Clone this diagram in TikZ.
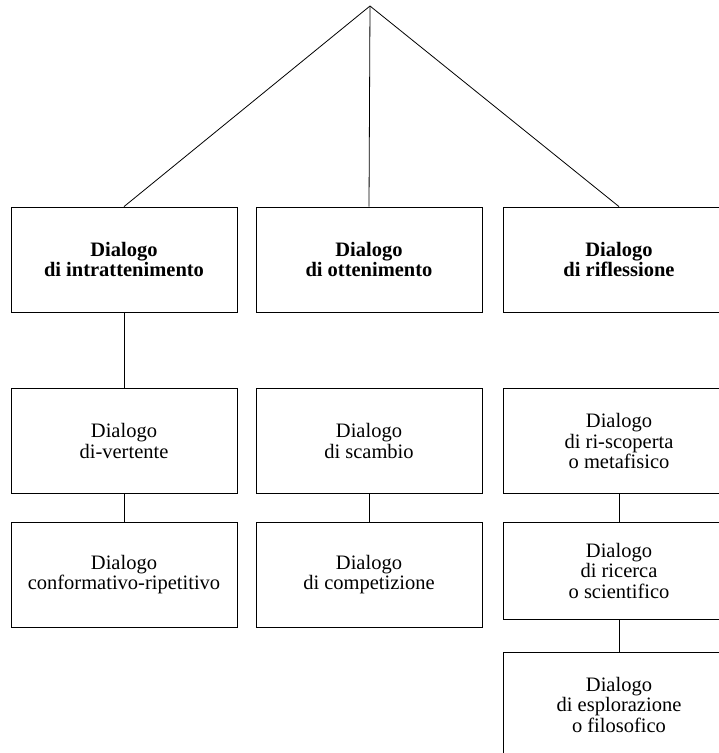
\documentclass[tikz,border=0pt]{standalone}
\usepackage{fontspec}
\setmainfont{Liberation Serif}
\begin{document}
\begin{tikzpicture}[x=1pt,y=1pt,
  box/.style={draw, line width=0.8pt, rectangle, align=center, minimum width=226pt, minimum height=105pt, inner sep=0pt, font=\fontsize{20.5}{20.5}\selectfont},
  rbox/.style={box, minimum width=232pt},
  conn/.style={line width=0.8pt}]
\useasboundingbox (0,0) rectangle (719,-753);
\coordinate (apex) at (370,-6);
% row 1
\node[box] (l1) at (124,-259.5) {\textbf{Dialogo}\\\textbf{di intrattenimento}};
\node[box] (m1) at (369,-259.5) {\textbf{Dialogo}\\\textbf{di ottenimento}};
\node[rbox] (r1) at (619,-259.5) {\textbf{Dialogo}\\\textbf{di riflessione}};
% row 2
\node[box] (l2) at (124,-441) {Dialogo\\di-vertente};
\node[box] (m2) at (369,-441) {Dialogo\\di scambio};
\node[rbox] (r2) at (619,-441) {Dialogo\\di ri-scoperta\\o metafisico};
% row 3
\node[box] (l3) at (124,-574.5) {Dialogo\\conformativo-ripetitivo};
\node[box] (m3) at (369,-574.5) {Dialogo\\di competizione};
\node[rbox, minimum height=97pt] (r3) at (619,-570.5) {Dialogo\\di ricerca\\o scientifico};
% row 4
\node[rbox] (r4) at (619,-704.5) {Dialogo\\di esplorazione\\o filosofico};
% connectors
\draw[conn] (apex) -- (l1.north);
\draw[conn] (apex) -- (m1.north);
\draw[conn] (apex) -- (r1.north);
\draw[conn] (l1) -- (l2);
\draw[conn] (l2) -- (l3);
\draw[conn] (m2) -- (m3);
\draw[conn] (r2) -- (r3);
\draw[conn] (r3) -- (r4);
\end{tikzpicture}
\end{document}
